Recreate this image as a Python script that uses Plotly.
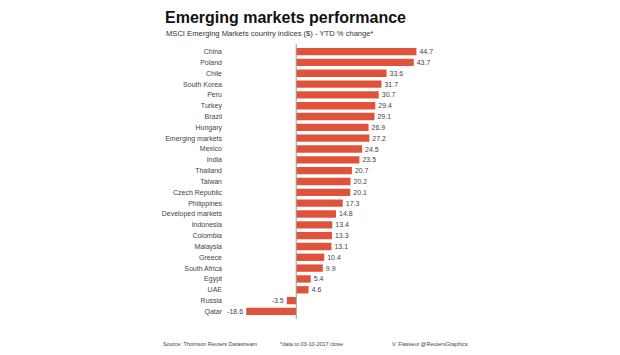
import plotly.graph_objects as go

countries = ["China", "Poland", "Chile", "South Korea", "Peru", "Turkey", "Brazil",
             "Hungary", "Emerging markets", "Mexico", "India", "Thailand", "Taiwan",
             "Czech Republic", "Philippines", "Developed markets", "Indonesia",
             "Colombia", "Malaysia", "Greece", "South Africa", "Egypt", "UAE",
             "Russia", "Qatar"]
values = [44.7, 43.7, 33.6, 31.7, 30.7, 29.4, 29.1, 26.9, 27.2, 24.5, 23.5, 20.7,
          20.2, 20.1, 17.3, 14.8, 13.4, 13.3, 13.1, 10.4, 9.9, 5.4, 4.6, -3.5, -18.6]
labels = [f"{v:.1f}" for v in values]

# page body has an 8px margin; figure coordinates = window coordinates - 8
OFF = 8
W, H = 620 - OFF, 355 - OFF
L, T = 229 - OFF, 44 - OFF
PW = 242
B = H - (319 - OFF)
PH = H - T - B
R = W - L - PW

def px(x):
    return (x - OFF - L) / PW

def py(y):
    return (H - B - (y - OFF)) / PH

FONT = "Liberation Sans, Arial, sans-serif"

fig = go.Figure(go.Bar(
    x=values, y=countries, orientation="h",
    marker=dict(color="#e0533b", line=dict(width=0)),
    width=0.68,
    text=labels, textposition="outside", constraintext="none",
    textfont=dict(size=7, color="#444", family=FONT),
    cliponaxis=False,
    hoverinfo="skip",
))

fig.update_layout(
    width=W, height=H,
    margin=dict(l=L, r=R, t=T, b=B),
    paper_bgcolor="white", plot_bgcolor="white",
    showlegend=False,
    font=dict(family=FONT),
    xaxis=dict(range=[-25, 65], visible=False, fixedrange=True),
    yaxis=dict(autorange=False, range=[24.7, -0.7], type="category",
               showgrid=False, showline=False, zeroline=False,
               ticks="", ticklabelstandoff=6,
               tickfont=dict(size=7, color="#444", family=FONT)),
    shapes=[dict(type="line", xref="x", yref="paper", x0=0, x1=0, y0=0, y1=1,
                 line=dict(color="#999", width=1))],
    annotations=[
        dict(text="<b>Emerging markets performance</b>", x=px(164), y=py(OFF),
             xref="paper", yref="paper", xanchor="left", yanchor="top",
             borderpad=0,
             showarrow=False, font=dict(size=16, color="#111", family=FONT)),
        dict(text="MSCI Emerging Markets country indices ($) - YTD % change*",
             x=px(164), y=py(33.5), xref="paper", yref="paper",
             xanchor="left", yanchor="middle", showarrow=False,
             font=dict(size=7.6, color="#333", family=FONT)),
        dict(text="Source: Thomson Reuters Datastream", x=px(161), y=py(344),
             xref="paper", yref="paper", xanchor="left", yanchor="middle",
             showarrow=False, font=dict(size=5.5, color="#444", family=FONT)),
        dict(text="*data to 03-10-2017 close", x=px(278), y=py(344),
             xref="paper", yref="paper", xanchor="left", yanchor="middle",
             showarrow=False, font=dict(size=5.5, color="#444", family=FONT)),
        dict(text="V. Flasseur @ReutersGraphics", x=px(390), y=py(344),
             xref="paper", yref="paper", xanchor="left", yanchor="middle",
             showarrow=False, font=dict(size=5.5, color="#444", family=FONT)),
    ],
)

fig.write_html("out.html", config={"displayModeBar": False})
